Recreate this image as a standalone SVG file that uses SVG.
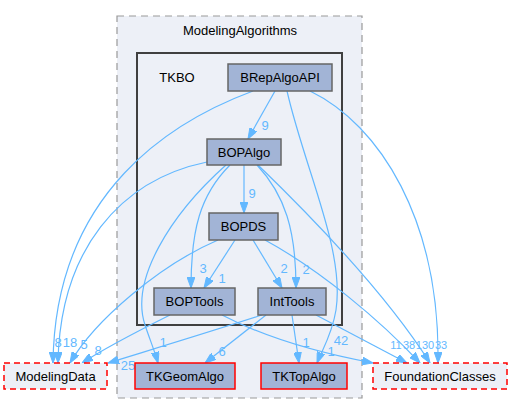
<svg xmlns="http://www.w3.org/2000/svg" width="512" height="416" viewBox="0 0 512 416">
<style>
text{font-family:"Liberation Sans",Arial,sans-serif;font-size:13px;text-anchor:middle}
.node rect{fill:#A2B4D6;stroke:#666666;stroke-width:1.5}
.node text{fill:#000}
.red rect{stroke:#FF0000}
.ext rect{fill:#EDF0F7;stroke:#FF0000;stroke-dasharray:6,4}
.edges path{fill:none;stroke:#63B8FF;stroke-width:1.2;marker-end:url(#arr)}
.lbl text{fill:#63B8FF}
.lbl text.sm{font-size:11px}
</style>
<defs>
<marker id="arr" markerUnits="userSpaceOnUse" markerWidth="11" markerHeight="8" refX="11" refY="4" orient="auto">
<path d="M0,0 L11,4 L0,8 z" fill="#63B8FF" stroke="#63B8FF" stroke-width="1"/>
</marker>
</defs>
<g id="cluster_ModelingAlgorithms">
<rect x="117" y="16" width="245" height="382" fill="#EDF0F7" stroke="#999999" stroke-width="1.2" stroke-dasharray="7,5"/>
<text x="240" y="35">ModelingAlgorithms</text>
</g>
<g id="cluster_TKBO">
<rect x="137" y="53" width="205" height="272" fill="#EDF0F7" stroke="#404040" stroke-width="2"/>
<text x="177" y="82">TKBO</text>
</g>
<g class="edges" id="connectors">
<path d="M275,91 L248,139"/>
<path d="M253,91 C175,120 55,190 53,363"/>
<path d="M287,91 C305,170 345,250 336,310 C332,335 322,350 317,363"/>
<path d="M310,91 C380,125 440,220 438,363"/>
<path d="M244,165 L244,213"/>
<path d="M207,162 C120,180 60,250 58,363"/>
<path d="M230,165 C200,195 191,230 191,288"/>
<path d="M257,165 C285,195 296,230 296,288"/>
<path d="M226,165 C170,215 130,280 145,325 C150,340 155,352 158,363"/>
<path d="M258,165 C320,225 390,300 430,363"/>
<path d="M235,240 L204,288"/>
<path d="M253,240 L282,288"/>
<path d="M218,240 C160,265 95,320 70,363"/>
<path d="M265,240 C320,270 380,320 420,363"/>
<path d="M170,315 C140,330 105,348 82,363"/>
<path d="M222,315 C270,340 330,355 373,363"/>
<path d="M262,315 C200,335 150,350 108,363"/>
<path d="M266,315 L205,363"/>
<path d="M292,315 L299,363"/>
<path d="M316,315 L407,363"/>
</g>
<g class="lbl" id="edge_labels">
<text x="265" y="130">9</text>
<text x="252" y="198">9</text>
<text x="203" y="273">3</text>
<text x="222" y="283">1</text>
<text x="284" y="273">2</text>
<text x="306" y="274">2</text>
<text x="163" y="347">1</text>
<text x="222" y="356">6</text>
<text x="306" y="347">1</text>
<text x="331" y="356">1</text>
<text x="341" y="345">42</text>
<text class="sm" x="396" y="349">11</text>
<text class="sm" x="409" y="349">38</text>
<text class="sm" x="425" y="349">130</text>
<text class="sm" x="441" y="349">33</text>
<text x="58" y="347">8</text>
<text x="70" y="347">18</text>
<text x="84" y="349">5</text>
<text x="98" y="355">8</text>
<text x="128" y="370">25</text>
</g>
<g class="node" id="BRepAlgoAPI"><rect x="228" y="64" width="104" height="27"/><text x="280" y="82">BRepAlgoAPI</text></g>
<g class="node" id="BOPAlgo"><rect x="207" y="139" width="74" height="26"/><text x="244" y="157">BOPAlgo</text></g>
<g class="node" id="BOPDS"><rect x="209" y="213" width="69" height="27"/><text x="243.5" y="231">BOPDS</text></g>
<g class="node" id="BOPTools"><rect x="154" y="288" width="81" height="27"/><text x="194.5" y="306">BOPTools</text></g>
<g class="node" id="IntTools"><rect x="258" y="288" width="68" height="27"/><text x="292" y="306">IntTools</text></g>
<g class="node red" id="TKGeomAlgo"><rect x="135" y="363" width="100" height="26"/><text x="185" y="381">TKGeomAlgo</text></g>
<g class="node red" id="TKTopAlgo"><rect x="261" y="363" width="86" height="26"/><text x="304" y="381">TKTopAlgo</text></g>
<g class="node ext" id="ModelingData"><rect x="4" y="363" width="103" height="26"/><text x="55.5" y="381">ModelingData</text></g>
<g class="node ext" id="FoundationClasses"><rect x="373" y="363" width="134" height="26"/><text x="440" y="381">FoundationClasses</text></g>
</svg>
